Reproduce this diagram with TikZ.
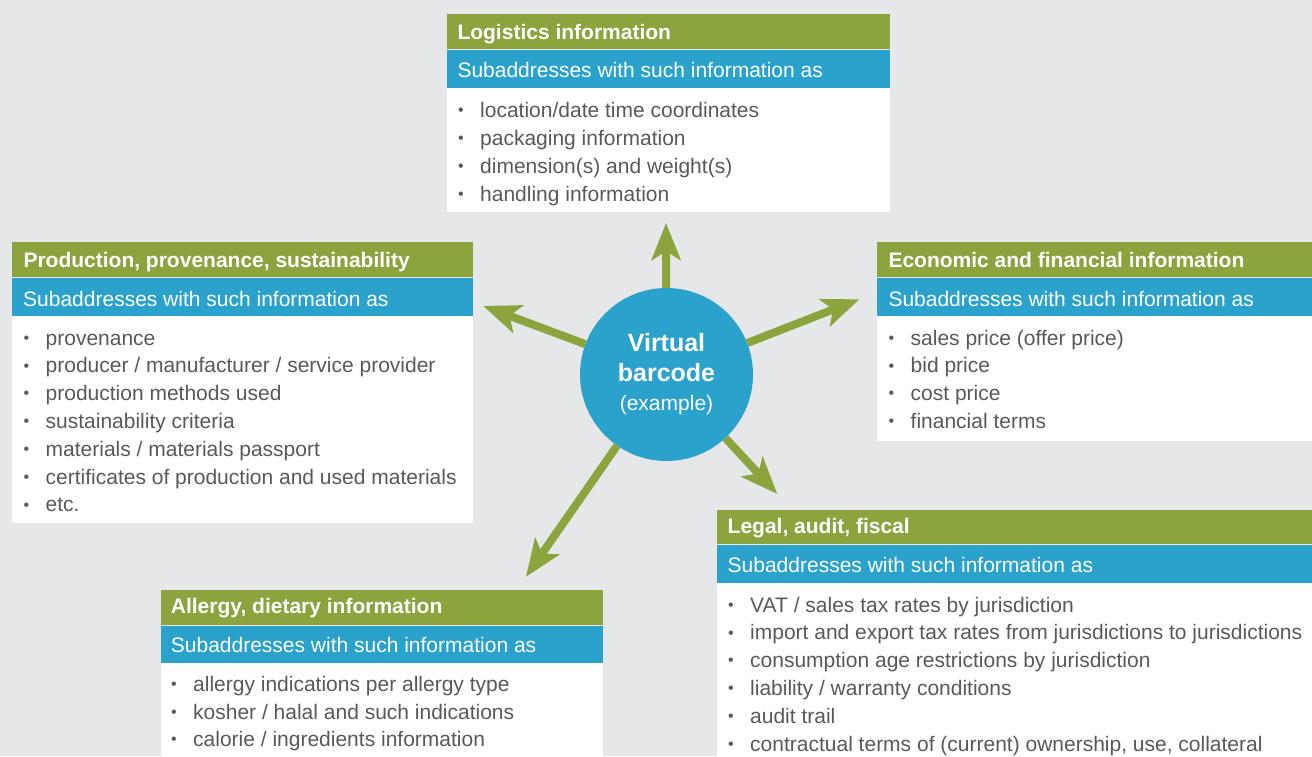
\documentclass[tikz,border=0pt]{standalone}
\usepackage{fontspec}
\setmainfont{Liberation Sans}
\usetikzlibrary{arrows.meta}
\definecolor{bgc}{HTML}{E6E7E8}
\definecolor{grn}{HTML}{8BA43D}
\definecolor{blu}{HTML}{2AA2CB}
\definecolor{txtc}{HTML}{58595B}
\newcommand\bl{\llap{\raisebox{1.8pt}{\fontsize{16}{16}\selectfont •}\hspace{16.5pt}}}
\tikzset{
  panel/.style={anchor=north west, inner sep=0pt, outer sep=0pt, draw=none},
  ttl/.style={anchor=base west, inner sep=0pt, text=white, font=\bfseries\fontsize{21}{25}\selectfont},
  stl/.style={anchor=base west, inner sep=0pt, text=white, font=\fontsize{21}{25}\selectfont},
  itm/.style={anchor=base west, inner sep=0pt, text=txtc, font=\fontsize{21}{25}\selectfont},
  arr/.style={draw=grn, line width=8pt, -{Stealth[length=37pt,width=29pt,inset=9pt]}},
  hub/.style={circle, fill=blu, minimum size=173pt, inner sep=0pt, text=white, align=center, font=\fontsize{25}{29.5}\selectfont},
}
\begin{document}
\begin{tikzpicture}[x=1pt,y=-1pt]
\useasboundingbox (0,0) rectangle (1312,756);
\fill[bgc] (0,0) rectangle (1312,756);

% Logistics
\node[panel, fill=grn, minimum width=443pt, minimum height=35pt] (logG) at (447,14) {};
\node[panel, fill=blu, minimum width=443pt, minimum height=38pt] (logB) at (447,50) {};
\node[panel, fill=white, minimum width=443pt, minimum height=124pt] (logW) at (447,88) {};
\node[ttl] (logT) at (457.3,39) {Logistics information};
\node[stl] (logS) at (457.3,77.5) {Subaddresses with such information as};
\foreach \t [count=\i from 0] in {location/date time coordinates, packaging information, dimension(s) and weight(s), handling information}
  \node[itm] (logI\i) at (480,{117+28*\i}) {\bl\t};

% Production
\node[panel, fill=grn, minimum width=461pt, minimum height=35pt] (proG) at (12,242) {};
\node[panel, fill=blu, minimum width=461pt, minimum height=38pt] (proB) at (12,278) {};
\node[panel, fill=white, minimum width=461pt, minimum height=207pt] (proW) at (12,316) {};
\node[ttl] (proT) at (23.3,267) {Production, provenance, sustainability};
\node[stl] (proS) at (23,306.5) {Subaddresses with such information as};
\foreach \t [count=\i from 0] in {provenance, producer / manufacturer / service provider, production methods used, sustainability criteria, materials / materials passport, certificates of production and used materials, etc.}
  \node[itm] (proI\i) at (45.5,{345+27.8*\i}) {\bl\t};

% Economic
\node[panel, fill=grn, minimum width=435pt, minimum height=35pt] (ecoG) at (877,242) {};
\node[panel, fill=blu, minimum width=435pt, minimum height=38pt] (ecoB) at (877,278) {};
\node[panel, fill=white, minimum width=435pt, minimum height=125pt] (ecoW) at (877,316) {};
\node[ttl] (ecoT) at (888.3,267) {Economic and financial information};
\node[stl] (ecoS) at (888.3,306.5) {Subaddresses with such information as};
\foreach \t [count=\i from 0] in {sales price (offer price), bid price, cost price, financial terms}
  \node[itm] (ecoI\i) at (910.5,{345+27.8*\i}) {\bl\t};

% Legal
\node[panel, fill=grn, minimum width=595.5pt, minimum height=34pt] (legG) at (716.5,510) {};
\node[panel, fill=blu, minimum width=595.5pt, minimum height=38pt] (legB) at (716.5,545) {};
\node[panel, fill=white, minimum width=595.5pt, minimum height=173pt] (legW) at (716.5,583) {};
\node[ttl] (legT) at (727.5,533) {Legal, audit, fiscal};
\node[stl] (legS) at (727.5,572.5) {Subaddresses with such information as};
\foreach \t [count=\i from 0] in {VAT / sales tax rates by jurisdiction, import and export tax rates from jurisdictions to jurisdictions, consumption age restrictions by jurisdiction, liability / warranty conditions, audit trail, {contractual terms of (current) ownership, use, collateral}}
  \node[itm] (legI\i) at (750,{612+27.8*\i}) {\bl\t};

% Allergy
\node[panel, fill=grn, minimum width=442pt, minimum height=35pt] (alG) at (161,590) {};
\node[panel, fill=blu, minimum width=442pt, minimum height=37pt] (alB) at (161,626) {};
\node[panel, fill=white, minimum width=442pt, minimum height=93pt] (alW) at (161,663) {};
\node[ttl] (alT) at (170.7,613) {Allergy, dietary information};
\node[stl] (alS) at (170.7,652.7) {Subaddresses with such information as};
\foreach \t [count=\i from 0] in {allergy indications per allergy type, kosher / halal and such indications, calorie / ingredients information}
  \node[itm] (alI\i) at (193,{691.7+27.5*\i}) {\bl\t};

% Hub
\node[hub] (vb) at (666.5,374.5) {\textbf{Virtual}\\\textbf{barcode}\\{\fontsize{21}{25}\selectfont(example)}};

\coordinate (tU) at (666,223);
\coordinate (tL) at (483.3,306);
\coordinate (tR) at (859.3,299.3);
\coordinate (tDR) at (777.3,494);
\coordinate (tDL) at (526,576.7);
\draw[arr] (vb) -- (tU);
\draw[arr] (vb) -- (tL);
\draw[arr] (vb) -- (tR);
\draw[arr] (vb) -- (tDR);
\draw[arr] (vb) -- (tDL);
\end{tikzpicture}
\end{document}
